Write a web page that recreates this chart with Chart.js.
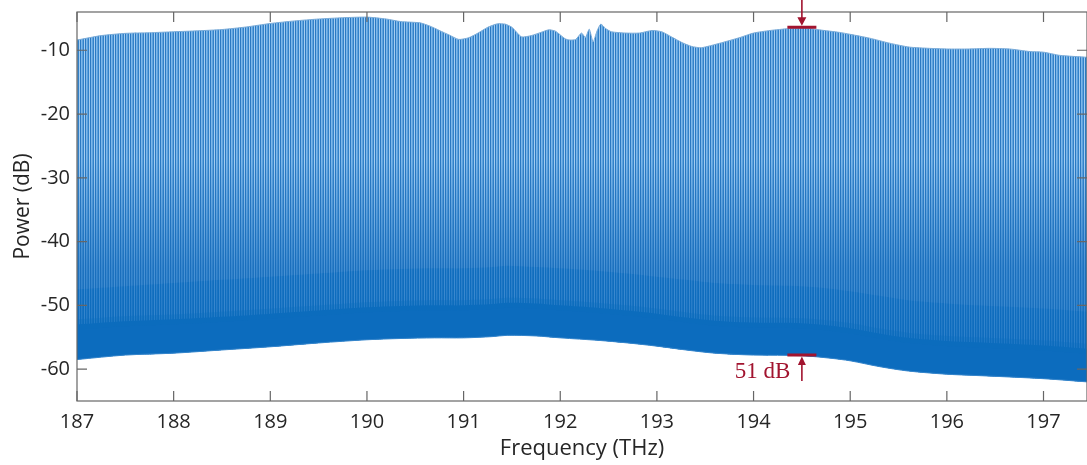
<!DOCTYPE html>
<html lang="en">
<head>
  <meta charset="UTF-8" />
  <title>Comb spectrum</title>
  <script src="https://cdn.jsdelivr.net/npm/chart.js"></script>
  <style>
    body { margin: 0; background: #fff; }
    canvas { display: block; }
  </style>
</head>
<body>
  <canvas id="spectrum" width="1087" height="465"></canvas>

  <script>
    // axis ticks
    const xTicks = [187, 188, 189, 190, 191, 192, 193, 194, 195, 196, 197];
    const yTicks = [-60, -50, -40, -30, -20, -10];

    // top envelope of the comb lines (peaks)
    const peakFreq = [187.0, 187.25, 187.5, 187.75, 188.0, 188.25, 188.5, 188.75, 189.0, 189.25,
      189.5, 189.75, 190.0, 190.2, 190.35, 190.55, 190.65, 190.75, 190.85, 190.95,
      191.05, 191.15, 191.25, 191.35, 191.43, 191.5, 191.6, 191.7, 191.8, 191.88,
      191.95, 192.05, 192.1, 192.16, 192.22, 192.26, 192.3, 192.34, 192.38, 192.42,
      192.47, 192.53, 192.67, 192.82, 192.95, 193.05, 193.15, 193.26, 193.36, 193.46,
      193.65, 193.86, 194.0, 194.17, 194.37, 194.53, 194.68, 194.89, 195.0, 195.2,
      195.41, 195.61, 195.82, 196.0, 196.23, 196.44, 196.65, 196.86, 197.0, 197.17, 197.45];
    const peakDb = [-8.4, -7.7, -7.35, -7.25, -7.1, -6.95, -6.75, -6.35, -5.8, -5.4,
      -5.1, -4.9, -4.8, -5.1, -5.5, -5.7, -6.2, -6.9, -7.6, -8.3,
      -8.05, -7.3, -6.4, -5.85, -5.9, -6.4, -7.9, -7.7, -7.2, -6.8,
      -7.0, -8.2, -8.4, -8.3, -7.3, -8.0, -6.7, -8.7, -7.0, -5.9,
      -6.6, -7.1, -7.3, -7.3, -6.9, -7.1, -7.9, -8.8, -9.4, -9.6,
      -8.9, -8.0, -7.3, -6.9, -6.6, -6.5, -6.8, -7.2, -7.5, -8.1,
      -8.9, -9.5, -9.7, -9.8, -9.8, -9.7, -9.8, -10.2, -10.3, -10.8, -11.1];

    // bottom envelope (floor between the lines), where the trace gets dense, and where it is solid
    const floorFreq = [187.0, 187.5, 188.0, 188.5, 189.0, 189.5, 190.0, 190.35, 190.7, 191.0,
      191.3, 191.45, 191.75, 192.0, 192.4, 192.7, 193.0, 193.3, 193.6, 194.0,
      194.5, 194.8, 195.0, 195.3, 195.6, 196.0, 196.3, 196.6, 197.0, 197.45];
    const floorDb = [-58.5, -57.8, -57.5, -57.0, -56.5, -55.9, -55.4, -55.2, -55.1, -55.1,
      -54.9, -54.7, -54.8, -55.1, -55.5, -55.9, -56.4, -57.0, -57.5, -57.8,
      -57.9, -58.3, -58.7, -59.6, -60.3, -60.8, -61.0, -61.2, -61.5, -62.0];
    const denseDb = [-47.5, -47.0, -46.5, -46.0, -45.5, -45.0, -44.5, -44.3, -44.2, -44.2,
      -44.0, -43.8, -44.0, -44.2, -44.6, -45.0, -45.5, -46.0, -46.5, -46.8,
      -47.0, -47.4, -47.8, -48.5, -49.2, -49.7, -50.0, -50.2, -50.5, -51.0];
    const solidDb = [-53.0, -52.5, -52.2, -51.8, -51.3, -50.8, -50.3, -50.1, -50.0, -50.0,
      -49.8, -49.6, -49.7, -50.0, -50.4, -50.8, -51.3, -51.9, -52.4, -52.7,
      -52.8, -53.2, -53.6, -54.4, -55.1, -55.6, -55.8, -56.0, -56.3, -56.8];

    // extinction marker
    const markFreq = 194.5;
    const markHalf = 0.15;
    const markTop = -6.4;
    const markBottom = -57.8;
    const markLabel = '51 dB';

    const toXY = (xs, ys) => xs.map((v, i) => ({ x: v, y: ys[i] }));

    // vertical stripes for the comb lines, darker towards the floor
    let stripeCache = null;
    function combStripes(context) {
      const chart = context.chart;
      const area = chart.chartArea;
      if (!area) return '#5a9bd8';
      if (stripeCache && stripeCache.h === chart.height) return stripeCache.p;
      const ys = chart.scales.y;
      const c = document.createElement('canvas');
      c.width = 5;
      c.height = chart.height;
      const g = c.getContext('2d');
      const stop = v => Math.min(1, Math.max(0, ys.getPixelForValue(v) / c.height));

      const grad = (top, low) => {
        const lg = g.createLinearGradient(0, 0, 0, c.height);
        lg.addColorStop(0, top);
        lg.addColorStop(stop(-27), top);
        lg.addColorStop(stop(-44), low);
        lg.addColorStop(1, '#0c6cbe');
        return lg;
      };
      const cols = [
        grad('#2a79c3', '#1a6fbd'),
        grad('#7db8ea', '#3b88ce'),
        grad('#5fa2de', '#2d7ec8'),
        grad('#3282c9', '#1d72bf'),
        grad('#a6cdf0', '#4a92d4')
      ];
      cols.forEach((fill, i) => { g.fillStyle = fill; g.fillRect(i, 0, 1, c.height); });

      const p = chart.ctx.createPattern(c, 'repeat');
      stripeCache = { h: chart.height, p: p };
      return p;
    }

    // dense part near the floor: dark lines with part-transparent gaps
    let denseCache = null;
    function denseStripes(context) {
      const chart = context.chart;
      if (!chart.chartArea) return 'rgba(12,108,190,0.4)';
      if (denseCache) return denseCache;
      const c = document.createElement('canvas');
      c.width = 5;
      c.height = 1;
      const g = c.getContext('2d');
      const alphas = [0.85, 0.25, 0.5, 0.8, 0.15];
      alphas.forEach((a, i) => {
        g.fillStyle = 'rgba(12,108,190,' + a + ')';
        g.fillRect(i, 0, 1, 1);
      });
      denseCache = chart.ctx.createPattern(c, 'repeat');
      return denseCache;
    }

    const framePlugin = {
      id: 'frame',
      afterDatasetsDraw(chart) {
        const { ctx, chartArea: a, scales: { x, y } } = chart;
        ctx.save();
        ctx.strokeStyle = '#666666';
        ctx.lineWidth = 1.2;
        ctx.strokeRect(a.left, a.top, a.right - a.left, a.bottom - a.top);
        ctx.beginPath();
        xTicks.forEach(v => {
          const px = x.getPixelForValue(v);
          ctx.moveTo(px, a.bottom); ctx.lineTo(px, a.bottom - 10);
          ctx.moveTo(px, a.top); ctx.lineTo(px, a.top + 10);
        });
        yTicks.forEach(v => {
          const py = y.getPixelForValue(v);
          ctx.moveTo(a.left, py); ctx.lineTo(a.left + 10, py);
          ctx.moveTo(a.right, py); ctx.lineTo(a.right - 10, py);
        });
        ctx.stroke();
        ctx.restore();
      }
    };

    const markPlugin = {
      id: 'mark',
      afterDraw(chart) {
        const { ctx, scales: { x, y } } = chart;
        const px = x.getPixelForValue(markFreq);
        const l = x.getPixelForValue(markFreq - markHalf);
        const r = x.getPixelForValue(markFreq + markHalf);
        const yt = y.getPixelForValue(markTop);
        const yb = y.getPixelForValue(markBottom);
        ctx.save();
        ctx.strokeStyle = '#A2142F';
        ctx.fillStyle = '#A2142F';
        // bars
        ctx.lineWidth = 3;
        ctx.beginPath();
        ctx.moveTo(l, yt); ctx.lineTo(r, yt);
        ctx.moveTo(l, yb); ctx.lineTo(r, yb);
        ctx.stroke();
        // arrows
        ctx.lineWidth = 1.6;
        ctx.beginPath();
        ctx.moveTo(px, 0); ctx.lineTo(px, yt - 8);
        ctx.moveTo(px, yb + 26); ctx.lineTo(px, yb + 8);
        ctx.stroke();
        ctx.beginPath();
        ctx.moveTo(px - 4.5, yt - 10); ctx.lineTo(px + 4.5, yt - 10); ctx.lineTo(px, yt - 1.5);
        ctx.closePath();
        ctx.moveTo(px - 4, yb + 10); ctx.lineTo(px + 4, yb + 10); ctx.lineTo(px, yb + 1.5);
        ctx.closePath();
        ctx.fill();
        // label
        ctx.font = '23px "Liberation Serif", "Times New Roman", serif';
        ctx.textAlign = 'right';
        ctx.textBaseline = 'alphabetic';
        ctx.fillText(markLabel, l + 3, yb + 23);
        ctx.restore();
      }
    };

    const tickFont = { family: "'Open Sans', sans-serif", size: 20 };

    new Chart(document.getElementById('spectrum'), {
      type: 'line',
      data: {
        datasets: [
          {
            label: 'floor',
            data: toXY(floorFreq, floorDb),
            borderColor: '#3585cb',
            borderWidth: 1,
            pointRadius: 0,
            tension: 0.3,
            fill: false
          },
          {
            label: 'solid',
            data: toXY(floorFreq, solidDb),
            borderWidth: 10,
            borderColor: 'rgba(12,108,190,0.35)',
            backgroundColor: '#0c6cbe',
            pointRadius: 0,
            tension: 0.3,
            fill: 0
          },
          {
            label: 'dense',
            data: toXY(floorFreq, denseDb),
            borderWidth: 0,
            borderColor: 'rgba(0,0,0,0)',
            backgroundColor: denseStripes,
            pointRadius: 0,
            tension: 0.3,
            fill: 0
          },
          {
            label: 'peaks',
            data: toXY(peakFreq, peakDb),
            borderColor: '#7aabd8',
            borderWidth: 1,
            backgroundColor: combStripes,
            pointRadius: 0,
            tension: 0.2,
            fill: 0
          }
        ]
      },
      options: {
        responsive: false,
        animation: false,
        layout: { padding: { top: 12, right: 0, left: 0, bottom: 0 } },
        plugins: {
          legend: { display: false },
          tooltip: { enabled: false }
        },
        scales: {
          x: {
            type: 'linear',
            min: 187,
            max: 197.45,
            afterFit: scale => {
              scale.height = 64;
              scale.paddingLeft = 0;
              scale.paddingRight = 0;
            },
            afterBuildTicks: scale => { scale.ticks = xTicks.map(v => ({ value: v })); },
            grid: { display: false, drawTicks: false },
            border: { display: false },
            ticks: { color: '#262626', font: tickFont, padding: 9, maxRotation: 0, autoSkip: false },
            title: {
              display: true,
              text: 'Frequency (THz)',
              color: '#262626',
              font: { family: "'Open Sans', sans-serif", size: 22 },
              padding: { top: 0, bottom: 3 }
            }
          },
          y: {
            min: -65,
            max: -4,
            afterFit: scale => {
              scale.width = 77;
              scale.paddingTop = 0;
              scale.paddingBottom = 0;
            },
            afterBuildTicks: scale => { scale.ticks = yTicks.map(v => ({ value: v })); },
            grid: { display: false, drawTicks: false },
            border: { display: false },
            ticks: { color: '#262626', font: tickFont, padding: 7 },
            title: {
              display: true,
              text: 'Power (dB)',
              color: '#262626',
              font: { family: "'Open Sans', sans-serif", size: 21 },
              padding: { top: 10, bottom: 0 }
            }
          }
        }
      },
      plugins: [framePlugin, markPlugin]
    });
  </script>
</body>
</html>
